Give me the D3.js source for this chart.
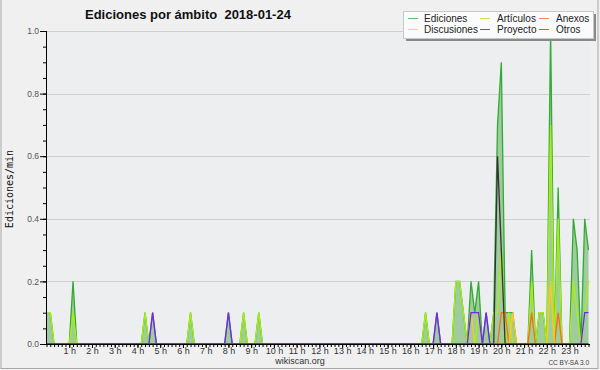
<!DOCTYPE html>
<html>
<head>
<meta charset="utf-8">
<script src="https://cdn.jsdelivr.net/npm/d3@7"></script>
<style>
  body { margin: 0; background: #f0f0f0; }
  svg { display: block; font-family: "Liberation Sans", Arial, sans-serif; }
</style>
</head>
<body>
<div id="vis-holder"></div>
<script>
// edits per minute, one value every 10 minutes (6 per hour, 144 points)
const ediciones = [
  .1,.1,0,0,0,0, 0,.2,0,0,0,0, 0,0,0,0,0,0, 0,0,0,0,0,0,
  0,0,.1,0,.1,0, 0,0,0,0,0,0, 0,0,.1,0,0,0, 0,0,0,0,0,0,
  .1,0,0,0,.1,0, 0,0,.1,0,0,0, 0,0,0,0,0,0, 0,0,0,0,0,0,
  0,0,0,0,0,0, 0,0,0,0,0,0, 0,0,0,0,0,0, 0,0,0,0,0,0,
  0,0,0,0,.1,0, 0,.1,0,0,0,0, .2,.2,.1,0,.2,.1, .2,0,.1,0,.1,.7,
  .9,.1,.1,.1,0,0, 0,0,.3,0,.1,.1, 0,1,0,.5,0,0, 0,.4,.3,0,.4,.3
];
const articulos = [
  .1,.1,0,0,0,0, 0,.1,0,0,0,0, 0,0,0,0,0,0, 0,0,0,0,0,0,
  0,0,.1,0,0,0, 0,0,0,0,0,0, 0,0,.1,0,0,0, 0,0,0,0,0,0,
  0,0,0,0,.1,0, 0,0,.1,0,0,0, 0,0,0,0,0,0, 0,0,0,0,0,0,
  0,0,0,0,0,0, 0,0,0,0,0,0, 0,0,0,0,0,0, 0,0,0,0,0,0,
  0,0,0,0,.1,0, 0,0,0,0,0,0, .2,.2,.1,0,0,0, .1,0,0,0,.1,.1,
  .3,0,.1,0,0,0, 0,0,.2,0,.1,.1, 0,.7,0,.4,0,0, 0,.2,.1,0,.1,.2
];
const anexos = [
  0,0,0,0,0,0, 0,0,0,0,0,0, 0,0,0,0,0,0, 0,0,0,0,0,0,
  0,0,0,0,0,0, 0,0,0,0,0,0, 0,0,0,0,0,0, 0,0,0,0,0,0,
  0,0,0,0,0,0, 0,0,0,0,0,0, 0,0,0,0,0,0, 0,0,0,0,0,0,
  0,0,0,0,0,0, 0,0,0,0,0,0, 0,0,0,0,0,0, 0,0,0,0,0,0,
  0,0,0,0,0,0, 0,0,0,0,0,0, 0,0,0,0,0,0, 0,0,0,0,0,0,
  .1,.1,0,0,0,0, 0,0,.1,0,0,0, 0,0,0,.1,0,0, 0,0,0,0,0,0
];
const discusiones = [
  0,0,0,0,0,0, 0,0,0,0,0,0, 0,0,0,0,0,0, 0,0,0,0,0,0,
  0,0,0,0,0,0, 0,0,0,0,0,0, 0,0,0,0,0,0, 0,0,0,0,0,0,
  0,0,0,0,0,0, 0,0,0,0,0,0, 0,0,0,0,0,0, 0,0,0,0,0,0,
  0,0,0,0,0,0, 0,0,0,0,0,0, 0,0,0,0,0,0, 0,0,0,0,0,0,
  0,0,0,0,0,0, 0,0,0,0,0,0, 0,0,0,0,.1,0, 0,0,0,0,0,0,
  0,0,0,.1,0,0, 0,0,0,0,0,0, 0,.2,0,0,0,0, 0,0,0,0,0,0
];
const proyecto = [
  0,0,0,0,0,0, 0,0,0,0,0,0, 0,0,0,0,0,0, 0,0,0,0,0,0,
  0,0,0,0,0,0, 0,0,0,0,0,0, 0,0,0,0,0,0, 0,0,0,0,0,0,
  0,0,0,0,0,0, 0,0,0,0,0,0, 0,0,0,0,0,0, 0,0,0,0,0,0,
  0,0,0,0,0,0, 0,0,0,0,0,0, 0,0,0,0,0,0, 0,0,0,0,0,0,
  0,0,0,0,0,0, 0,0,0,0,0,0, 0,0,0,0,0,0, 0,0,0,0,0,.6,
  .3,0,0,0,0,0, 0,0,0,0,0,0, 0,0,0,0,0,0, 0,0,0,0,0,0
];
const otros = [
  0,0,0,0,0,0, 0,0,0,0,0,0, 0,0,0,0,0,0, 0,0,0,0,0,0,
  0,0,0,0,.1,0, 0,0,0,0,0,0, 0,0,0,0,0,0, 0,0,0,0,0,0,
  .1,0,0,0,0,0, 0,0,0,0,0,0, 0,0,0,0,0,0, 0,0,0,0,0,0,
  0,0,0,0,0,0, 0,0,0,0,0,0, 0,0,0,0,0,0, 0,0,0,0,0,0,
  0,0,0,0,0,0, 0,.1,0,0,0,0, 0,0,0,0,.1,.1, .1,0,.1,0,0,0,
  0,0,0,0,0,0, 0,0,0,0,0,0, 0,0,0,0,0,0, 0,0,0,0,.1,.1
];

const horas = ["1 h","2 h","3 h","4 h","5 h","6 h","7 h","8 h","9 h","10 h","11 h","12 h",
  "13 h","14 h","15 h","16 h","17 h","18 h","19 h","20 h","21 h","22 h","23 h"];
const yTicks = [0, 0.2, 0.4, 0.6, 0.8, 1.0];

// series in draw order, total first so the others sit on top
const series = [
  {name: "Ediciones", values: ediciones, color: "#33aa33"},
  {name: "Artículos", values: articulos, color: "#aaee11"},
  {name: "Anexos", values: anexos, color: "#ff6a1a"},
  {name: "Discusiones", values: discusiones, color: "#ffc820"},
  {name: "Proyecto", values: proyecto, color: "#333333"},
  {name: "Otros", values: otros, color: "#7a22ee"}
];
const legendOrder = ["Ediciones", "Artículos", "Anexos", "Discusiones", "Proyecto", "Otros"];

const w = 600;
const h = 370;
const svg = d3.select("#vis-holder").append("svg")
    .attr("width", w)
    .attr("height", h);

// outer background + frame
svg.append("rect").attr("x", 0).attr("y", 0).attr("width", w).attr("height", h).attr("fill", "#f0f0f0");
svg.append("rect").attr("x", 1).attr("y", -1).attr("width", 597).attr("height", 369.5)
    .attr("fill", "none").attr("stroke", "#a8a8a8");

let x = d3.scaleLinear().domain([0, 143]).range([46.5, 588.5]);
let y = d3.scaleLinear().domain([0, 1]).range([344, 31]);

// plot background
svg.append("rect").attr("x", 46).attr("y", 31).attr("width", 544).attr("height", 313).attr("fill", "#eceef0");

// grid
svg.append("g").selectAll("line")
    .data(yTicks.slice(1))
    .enter()
    .append("line")
    .attr("x1", 46).attr("x2", 590)
    .attr("y1", d => Math.round(y(d)) + 0.5).attr("y2", d => Math.round(y(d)) + 0.5)
    .attr("stroke", "#cfcfcf");

// total area
const area = d3.area()
    .x((d, i) => x(i))
    .y0(y(0))
    .y1(d => y(d));
svg.append("path")
    .datum(ediciones)
    .attr("d", area)
    .attr("fill", "#9fcc9f");

const line = d3.line()
    .x((d, i) => x(i))
    .y(d => y(d));
svg.selectAll(".serie")
    .data(series)
    .enter()
    .append("path")
    .attr("class", "serie")
    .attr("d", d => line(d.values))
    .attr("fill", "none")
    .attr("stroke", d => d.color)
    .attr("stroke-width", 1.3)
    .attr("stroke-linejoin", "miter");

// x axis: minor tick every 10 min, labelled tick every hour
const xMinor = d3.axisBottom(x).tickValues(d3.range(0, 144)).tickSize(3).tickFormat("");
svg.append("g").attr("transform", "translate(0,344)").call(xMinor)
    .call(g => g.select(".domain").remove())
    .selectAll("line").attr("stroke", "#000");
const xMajor = d3.axisBottom(x)
    .tickValues(d3.range(6, 144, 6))
    .tickSize(4).tickPadding(0)
    .tickFormat((d, i) => horas[i]);
svg.append("g").attr("transform", "translate(0,344)").call(xMajor)
    .call(g => g.select(".domain").remove())
    .call(g => g.selectAll("line").attr("stroke", "#000"))
    .selectAll("text").attr("font-size", 9).attr("fill", "#333")
    .attr("font-family", "Liberation Sans");
svg.append("line").attr("x1", 46).attr("x2", 590).attr("y1", 344.5).attr("y2", 344.5).attr("stroke", "#000");

// y axis
const yMinor = d3.axisLeft(y).tickValues(d3.range(0, 21).map(k => k / 20)).tickSize(3).tickFormat("");
svg.append("g").attr("transform", "translate(46,0)").call(yMinor)
    .call(g => g.select(".domain").remove())
    .selectAll("line").attr("stroke", "#000");
const yMajor = d3.axisLeft(y).tickValues(yTicks).tickSize(6).tickPadding(1).tickFormat(d3.format(".1f"));
svg.append("g").attr("transform", "translate(46,0)").call(yMajor)
    .call(g => g.select(".domain").remove())
    .call(g => g.selectAll("line").attr("stroke", "#000"))
    .selectAll("text").attr("font-size", 8.5).attr("fill", "#555")
    .attr("font-family", "Liberation Sans");
svg.append("line").attr("x1", 46.5).attr("x2", 46.5).attr("y1", 31).attr("y2", 345).attr("stroke", "#000");

// y title
svg.append("text")
    .attr("transform", "translate(13,189) rotate(-90)")
    .attr("text-anchor", "middle")
    .attr("font-family", "DejaVu Sans Mono")
    .attr("font-size", 10)
    .attr("fill", "#111")
    .text("Ediciones/min");

// title (two spaces before the date)
svg.append("text")
    .attr("x", 85).attr("y", 19)
    .attr("font-weight", "bold")
    .attr("font-size", 13)
    .attr("fill", "#111")
    .style("white-space", "pre")
    .text("Ediciones por ámbito  2018-01-24");

// legend
const lg = svg.append("g");
lg.append("rect").attr("x", 406).attr("y", 14).attr("width", 190).attr("height", 27).attr("fill", "#8a8a8a");
lg.append("rect").attr("x", 403.5).attr("y", 11.5).attr("width", 190).attr("height", 27)
    .attr("fill", "#fbfbfb").attr("stroke", "#c8c8c8");
const colX = [408, 480, 539];
const rowY = [18.5, 29.5];
const items = lg.selectAll(".item")
    .data(legendOrder.map(n => series.find(s => s.name === n)))
    .enter()
    .append("g")
    .attr("class", "item")
    .attr("transform", (d, i) => "translate(" + colX[i % 3] + "," + rowY[Math.floor(i / 3)] + ")");
items.append("line").attr("x1", 0).attr("x2", 10).attr("y1", 0).attr("y2", 0)
    .attr("stroke", d => d.color).attr("stroke-width", 1).attr("opacity", 0.75);
items.append("text").attr("x", (d, i) => i % 3 === 0 ? 16 : 17).attr("y", 3.5)
    .attr("font-size", 10).attr("fill", "#222")
    .text(d => d.name);

// footer
svg.append("text").attr("x", 300).attr("y", 364).attr("text-anchor", "middle")
    .attr("font-size", 9).attr("fill", "#333").text("wikiscan.org");
svg.append("text").attr("x", 589).attr("y", 365).attr("text-anchor", "end")
    .attr("font-size", 6.5).attr("fill", "#444").text("CC BY-SA 3.0");
</script>
</body>
</html>
